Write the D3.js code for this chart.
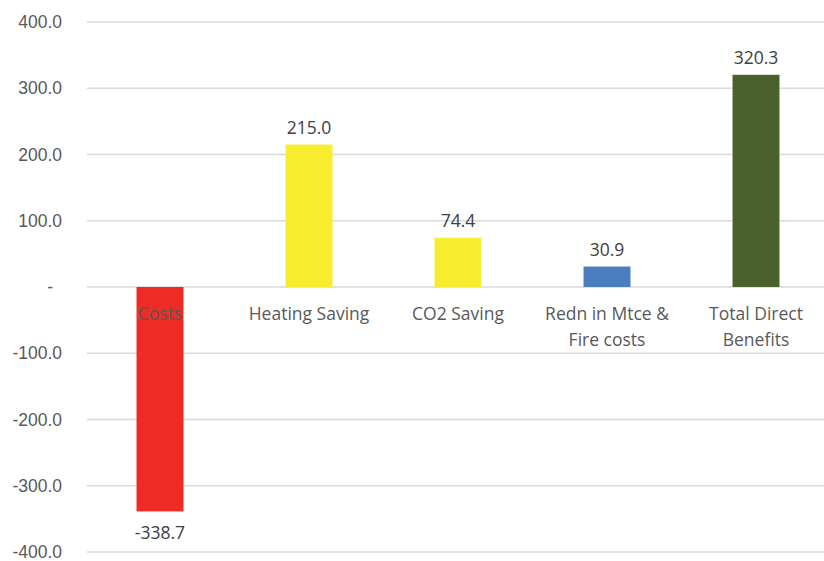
<!DOCTYPE html>
<html>
<head>
<meta charset="utf-8">
<script src="https://cdn.jsdelivr.net/npm/d3@7"></script>
<style>
    body { margin: 0; background: #fff; }
    svg { display: block; font-family: "Open Sans", "Noto Sans", sans-serif; }
</style>
</head>
<body>
<div id="chart"></div>
<script>
// 数据
var categories = ["Costs", "Heating Saving", "CO2 Saving", "Redn in Mtce &\nFire costs", "Total Direct\nBenefits"];
var values = [-338.7, 215.0, 74.4, 30.9, 320.3];
var barColors = ["#EE2B24", "#F8EC2E", "#4A7EC1", "#4A612C"];
var yTicks = [400, 300, 200, 100, 0, -100, -200, -300, -400];

var width = 824, height = 561;

// 数字格式：用普通连字符作负号
var fmt = function (d) { return d3.format(".1f")(d).replace("\u2212", "-"); };

var svg = d3.select("#chart")
    .append("svg")
    .attr("width", width)
    .attr("height", height);

// 比例尺
var y = d3.scaleLinear().domain([-400, 400]).range([552, 22]);
var x = d3.scaleBand().domain(categories).range([85.5, 830.5]).paddingInner(0.685).paddingOuter(0.3425);

// 网格线
svg.append("g")
    .selectAll("line")
    .data(yTicks)
    .join("line")
    .attr("x1", 87)
    .attr("x2", width)
    .attr("y1", function (d) { return y(d); })
    .attr("y2", function (d) { return y(d); })
    .attr("stroke", "#d9d9d9")
    .attr("stroke-width", 1.3);

// y轴
var yAxis = d3.axisLeft(y)
    .tickValues(yTicks)
    .tickSize(0)
    .tickPadding(0)
    .tickFormat(function (d) { return d === 0 ? "-" : fmt(d); });

var ga = svg.append("g")
    .attr("transform", "translate(62,0)")
    .call(yAxis);
ga.select(".domain").remove();
ga.selectAll("text")
    .attr("fill", "#595959")
    .attr("font-size", 17.5)
    .attr("dx", function (d) { return d === 0 ? -9 : 0; });

// 柱子
svg.append("g")
    .selectAll("rect")
    .data(values)
    .join("rect")
    .attr("x", function (d, i) { return x(categories[i]); })
    .attr("width", x.bandwidth())
    .attr("y", function (d) { return y(Math.max(0, d)); })
    .attr("height", function (d) { return Math.abs(y(d) - y(0)); })
    .attr("fill", function (d, i) {
        if (i === 0) return barColors[0];
        if (i <= 2) return barColors[1];
        if (i === 3) return barColors[2];
        return barColors[3];
    });

// 数值标签
svg.append("g")
    .selectAll("text")
    .data(values)
    .join("text")
    .attr("x", function (d, i) { return x(categories[i]) + x.bandwidth() / 2; })
    .attr("y", function (d) { return d >= 0 ? y(d) - 11 : y(d) + 28; })
    .attr("text-anchor", "middle")
    .attr("fill", "#404040")
    .attr("font-size", 17.5)
    .text(function (d) { return fmt(d); });

// 类别标签
var cat = svg.append("g")
    .selectAll("text")
    .data(categories)
    .join("text")
    .attr("x", function (d) { return x(d) + x.bandwidth() / 2; })
    .attr("y", 320)
    .attr("text-anchor", "middle")
    .attr("fill", "#595959")
    .attr("font-size", 17.5);

cat.each(function (d) {
    var lines = d.split("\n");
    var t = d3.select(this);
    lines.forEach(function (l, i) {
        t.append("tspan")
            .attr("x", t.attr("x"))
            .attr("dy", i === 0 ? 0 : 26)
            .text(l);
    });
});
</script>
</body>
</html>
